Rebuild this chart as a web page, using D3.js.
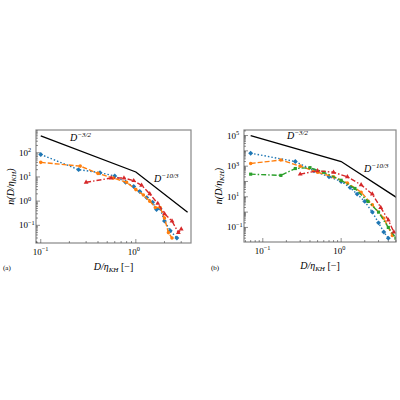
<!DOCTYPE html><html><head><script src="https://d3js.org/d3.v7.min.js"></script>
<style>body{margin:0;background:#fff}text{font-family:"Liberation Serif",serif}</style></head><body>
<svg id="c" width="400" height="400"></svg>
<script>
const refA=[[0.1,500],[1,16],[3.5,0.35]];
const blueA=[[0.1,85],[0.25,20],[0.42,15],[0.6,11],[0.78,6],[0.95,4],[1.1,2.5],[1.3,1.4],[1.5,0.9],[1.65,0.45],[1.8,0.5],[2.0,0.15],[2.3,0.06],[2.7,0.03]];
const orangeA=[[0.1,40],[0.26,28],[0.4,14],[0.58,9],[0.8,6],[1.0,3],[1.2,1.8],[1.4,1.0],[1.6,0.55],[1.8,0.55],[2.0,0.2],[2.2,0.05],[2.4,0.03]];
const redA=[[0.3,6],[0.55,9],[0.75,9],[0.95,7],[1.15,4.5],[1.4,2.0],[1.7,0.8],[2.0,0.3],[2.4,0.15],[2.8,0.05],[3.0,0.07]];
const refB=[[0.07,1e5],[1,2000],[5.5,7]];
const blueB=[[0.07,7000],[0.26,2000],[0.45,500],[0.7,200],[1,100],[1.3,40],[1.6,15],[2,5],[2.5,1],[3,0.2],[3.5,0.05],[4,0.02]];
const orangeB=[[0.07,1500],[0.17,2500],[0.3,1000],[0.5,400],[0.8,200],[1.2,80],[1.8,20],[2.5,3],[3.5,0.4],[4.5,0.03]];
const greenB=[[0.07,300],[0.17,250],[0.26,700],[0.4,800],[0.6,400],[1,120],[1.5,35],[2.2,5],[3,1],[4,0.1],[5,0.02]];
const redB=[[0.3,300],[0.5,500],[0.8,400],[1.2,200],[1.8,60],[2.5,15],[3.2,2],[4,0.3],[4.7,0.05]];
const ticksA=[0.1,1,10,100], ticksB=[0.1,10,1000,100000];
const svg=d3.select("#c");
const C={blue:"#1f77b4",orange:"#ff7f0e",green:"#2ca02c",red:"#d62728"};
const sup=(g,x,y,base,exp,size)=>{const t=g.append("text").attr("x",x).attr("y",y).attr("font-size",size);t.append("tspan").text(base);t.append("tspan").attr("dy",-size*0.4).attr("font-size",size*0.7).text(exp);return t;};
function panel(o){
  const g=svg.append("g");
  const x=d3.scaleLog().domain(o.xd).range([o.x0,o.x1]);
  const y=d3.scaleLog().domain(o.yd).range([o.y1,o.y0]);
  g.append("defs").append("clipPath").attr("id","cl"+o.id).append("rect").attr("x",o.x0).attr("y",o.y0).attr("width",o.x1-o.x0).attr("height",o.y1-o.y0);
  const pg=g.append("g").attr("clip-path",`url(#cl${o.id})`);
  const line=d3.line().x(d=>x(d[0])).y(d=>y(d[1]));
  pg.append("path").attr("d",line(o.ref)).attr("fill","none").attr("stroke","#000").attr("stroke-width",1.3);
  o.series.forEach(s=>{
    pg.append("path").attr("d",line(s.d)).attr("fill","none").attr("stroke",C[s.c]).attr("stroke-width",1.4).attr("stroke-dasharray",s.dash);
    pg.selectAll(null).data(s.d).join("path").attr("transform",d=>`translate(${x(d[0])},${y(d[1])})${s.sym==="d"?" rotate(45)":""}`)
      .attr("d",d3.symbol().type(s.sym==="d"?d3.symbolSquare:s.sym==="t"?d3.symbolTriangle:s.sym==="s"?d3.symbolSquare:d3.symbolCircle).size(s.sym==="d"?12:10)).attr("fill",C[s.c]);
  });
  g.append("rect").attr("x",o.x0).attr("y",o.y0).attr("width",o.x1-o.x0).attr("height",o.y1-o.y0).attr("fill","none").attr("stroke","#888").attr("stroke-width",1.2);
  // minor ticks
  const xm=[];for(let e=-2;e<=1;e++)for(let k=1;k<10;k++){const v=k*10**e;if(v>=o.xd[0]&&v<=o.xd[1])xm.push([v,k===1]);}
  xm.forEach(([v,maj])=>{g.append("line").attr("x1",x(v)).attr("x2",x(v)).attr("y1",o.y1).attr("y2",o.y1-(maj?4:2)).attr("stroke","#444").attr("stroke-width",0.6);});
  [[0.1,"10","−1"],[1,"10","0"]].forEach(([v,b,e])=>{sup(g,x(v)-8,o.y1+12,b,e,9);});
  const ym=[];for(let e=-2;e<=5;e++)for(let k=1;k<10;k++){const v=k*10**e;if(v>=o.yd[0]&&v<=o.yd[1])ym.push([v,k===1]);}
  ym.forEach(([v,maj])=>{g.append("line").attr("x1",o.x0).attr("x2",o.x0+(maj?4:2)).attr("y1",y(v)).attr("y2",y(v)).attr("stroke","#444").attr("stroke-width",0.6);});
  o.ticks.forEach(v=>{const e=Math.round(Math.log10(v));sup(g,o.x0-17,y(v)+3,"10",e<0?"−"+(-e):String(e),9).attr("text-anchor","start");});
  sup(g,o.l1[0],o.l1[1],"D","−3/2",10).attr("font-style","italic");
  sup(g,o.l2[0],o.l2[1],"D","−10/3",10).attr("font-style","italic");
  const xl=g.append("text").attr("x",(o.x0+o.x1)/2).attr("y",o.y1+27).attr("text-anchor","middle").attr("font-size",10).attr("font-style","italic");
  xl.append("tspan").text("D/η");xl.append("tspan").attr("font-size",7).attr("dy",2).text("KH");xl.append("tspan").attr("dy",-2).attr("font-style","normal").text(" [−]");
  const yl=g.append("text").attr("transform",`translate(${o.x0-22},${(o.y0+o.y1)/2}) rotate(-90)`).attr("text-anchor","middle").attr("font-size",10).attr("font-style","italic");
  yl.append("tspan").text("n(D/η");yl.append("tspan").attr("font-size",7).attr("dy",2).text("KH");yl.append("tspan").attr("dy",-2).text(")");
  g.append("text").attr("x",o.lab).attr("y",270).attr("font-size",7).text(o.id==="a"?"(a)":"(b)");
}
panel({id:"a",x0:36,x1:191,y0:130,y1:243,xd:[10**-1.05,10**0.58],yd:[10**-1.73,10**2.94],ref:refA,ticks:ticksA,l1:[70,141],l2:[154,182],lab:3,
 series:[{d:blueA,c:"blue",dash:"1.5,2",sym:"d"},{d:orangeA,c:"orange",dash:"5,2",sym:"c"},{d:redA,c:"red",dash:"5,2,1.5,2",sym:"t"}]});
panel({id:"b",x0:244,x1:396,y0:130,y1:242,xd:[10**-1.24,10**0.70],yd:[10**-1.95,10**5.36],ref:refB,ticks:ticksB,l1:[287,139],l2:[364,172],lab:211,
 series:[{d:blueB,c:"blue",dash:"1.5,2",sym:"d"},{d:orangeB,c:"orange",dash:"5,2",sym:"c"},{d:greenB,c:"green",dash:"5,2,1.5,2",sym:"s"},{d:redB,c:"red",dash:"5,2,1.5,2",sym:"t"}]});
</script></body></html>
